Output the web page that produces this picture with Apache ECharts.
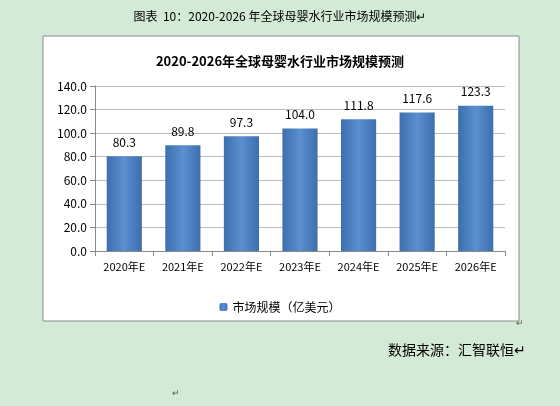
<!DOCTYPE html>
<html><head><meta charset="utf-8">
<script src="https://cdn.jsdelivr.net/npm/echarts@6/dist/echarts.min.js"></script>
<style>html,body{margin:0;padding:0;background:#d3ead6;}#c{width:560px;height:406px;}</style>
</head><body><div id="c"></div>
<script>
const categories=['2020年E','2021年E','2022年E','2023年E','2024年E','2025年E','2026年E'];
const values=[80.3,89.8,97.3,104.0,111.8,117.6,123.3];
const yTicks=[0,20,40,60,80,100,120,140];
const chart=echarts.init(document.getElementById('c'));
const F='"Noto Sans CJK SC", "Noto Sans", sans-serif';
chart.setOption({
  backgroundColor:'#d3ead6',
  animation:false,
  graphic:[
    {type:'rect',shape:{x:43,y:36,width:476,height:285},style:{fill:'#fff',stroke:'#8a8a8a',lineWidth:1},z:-10},
    {type:'text',left:'center',top:10,style:{text:'图表  10：2020-2026 年全球母婴水行业市场规模预测↵',font:'12px '+F,fill:'#000'}},
    {type:'text',x:388,y:343,style:{text:'数据来源：汇智联恒↵',font:'14px '+F,fill:'#000'}},
    {type:'text',x:516,y:318,style:{text:'↵',font:'9px '+F,fill:'#555'}},
    {type:'text',x:172,y:388,style:{text:'↵',font:'9px '+F,fill:'#555'}}
  ],
  title:{text:'2020-2026年全球母婴水行业市场规模预测',left:'center',top:50,textStyle:{fontSize:13,fontWeight:'bold',fontFamily:F,color:'#000'}},
  grid:{left:95,right:55,top:86,bottom:155},
  legend:{bottom:88,left:'center',itemWidth:8,itemHeight:8,textStyle:{fontSize:12,fontFamily:F,color:'#000'},data:['市场规模（亿美元）']},
  xAxis:{type:'category',data:categories,axisLine:{lineStyle:{color:'#888'}},axisTick:{show:true,lineStyle:{color:'#888'}},axisLabel:{interval:0,color:'#000',fontSize:11,fontFamily:F,margin:10}},
  yAxis:{type:'value',min:0,max:140,interval:20,axisLine:{show:true,lineStyle:{color:'#888'}},axisTick:{show:true,lineStyle:{color:'#888'}},
    splitLine:{lineStyle:{color:'#bbb'}},axisLabel:{color:'#000',fontSize:12,fontFamily:F,formatter:v=>v.toFixed(1)}},
  series:[{name:'市场规模（亿美元）',type:'bar',data:values,barWidth:'60%',
    itemStyle:{color:new echarts.graphic.LinearGradient(0,0,1,0,[{offset:0,color:'#3d6fae'},{offset:0.5,color:'#5b8fd0'},{offset:1,color:'#3d6fae'}])},
    label:{show:true,position:'top',color:'#000',fontSize:12,fontFamily:F,distance:8,formatter:p=>p.value.toFixed(1)}}]
});
</script></body></html>
